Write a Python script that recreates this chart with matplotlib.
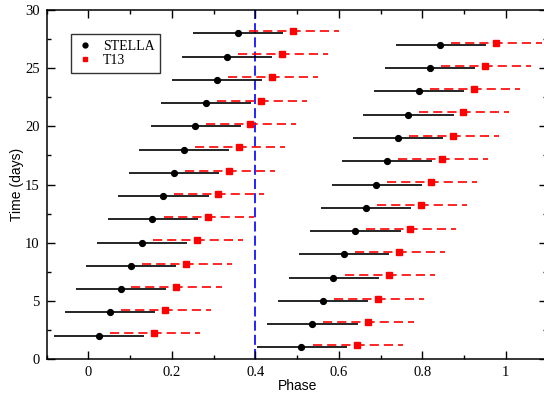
import matplotlib
matplotlib.use("Agg")
import matplotlib.pyplot as plt
from matplotlib.lines import Line2D
from matplotlib.ticker import MultipleLocator, FuncFormatter

# STELLA: time (days) and phase, two branches either side of phase 0.4
stella_time = [1, 2, 3, 4, 5, 6, 7, 8, 9, 10, 11, 12, 13, 14,
               15, 16, 17, 18, 19, 20, 21, 22, 23, 24, 25, 26, 27, 28]
stella_phase = [0.510, 0.025, 0.536, 0.051, 0.562, 0.077, 0.587, 0.102,
                0.612, 0.128, 0.639, 0.153, 0.664, 0.179, 0.690, 0.204,
                0.715, 0.229, 0.741, 0.256, 0.766, 0.281, 0.791, 0.307,
                0.818, 0.332, 0.843, 0.358]
stella_err_lo = 0.107
stella_err_hi = 0.109

# T13
t13_time = [1.2, 2.2, 3.2, 4.2, 5.2, 6.2, 7.2, 8.2, 9.2, 10.2, 11.2, 12.2, 13.2, 14.2,
            15.2, 16.2, 17.2, 18.2, 19.2, 20.2, 21.2, 22.2, 23.2, 24.2, 25.2, 26.2, 27.2, 28.2]
t13_phase = [0.644, 0.158, 0.669, 0.184, 0.695, 0.209, 0.720, 0.235,
             0.745, 0.260, 0.771, 0.286, 0.797, 0.311, 0.822, 0.337,
             0.848, 0.362, 0.874, 0.388, 0.898, 0.414, 0.924, 0.440,
             0.950, 0.465, 0.976, 0.490]
t13_err_lo = 0.106
t13_err_hi = 0.110

PHASE_CUT = 0.4

plt.rcParams['font.family'] = 'Liberation Serif'

fig = plt.figure(figsize=(5.44, 3.94), dpi=100)
ax = fig.add_axes([0.0858, 0.0888, 0.9206, 0.8858])

n = len(stella_time)
ax.errorbar(stella_phase, stella_time,
            xerr=[[stella_err_lo] * n, [stella_err_hi] * n],
            fmt='o', color='black', ms=4.2, elinewidth=1.2, capsize=0, zorder=3)

m = len(t13_time)
eb = ax.errorbar(t13_phase, t13_time,
                 xerr=[[t13_err_lo] * m, [t13_err_hi] * m],
                 fmt='s', color='red', ms=4.0, elinewidth=1.2, capsize=0, zorder=2)
eb[2][0].set_linestyle((0, (5.5, 3)))

ax.axvline(PHASE_CUT, color='blue', lw=1.2, ls=(0, (6, 2.5)), zorder=1)

ax.set_xlim(-0.1, 1.1)
ax.set_ylim(0, 30)
ax.xaxis.set_major_locator(MultipleLocator(0.2))
ax.xaxis.set_minor_locator(MultipleLocator(0.1))
ax.yaxis.set_major_locator(MultipleLocator(5))
ax.yaxis.set_minor_locator(MultipleLocator(2.5))
ax.xaxis.set_major_formatter(FuncFormatter(lambda v, p: f"{v:g}" if abs(v) > 1e-9 else "0"))

ax.tick_params(which='both', direction='in', top=True, right=True, width=1.0,
               labelsize=10.5)
ax.tick_params(which='major', length=6, pad=5)
ax.tick_params(which='minor', length=3.2)
for s in ax.spines.values():
    s.set_linewidth(1.1)

ax.set_xlabel('Phase', fontsize=10, family='Liberation Sans', labelpad=0)
ax.set_ylabel('Time (days)', fontsize=10, family='Liberation Sans', labelpad=1)

handles = [Line2D([], [], ls='none', marker='o', color='black', ms=3.5),
           Line2D([], [], ls='none', marker='s', color='red', ms=3.5)]
leg = ax.legend(handles, ['STELLA', 'T13'], loc='upper left',
                bbox_to_anchor=(0.0485, 0.931), borderaxespad=0,
                fontsize=10, frameon=True, fancybox=False, edgecolor='black',
                handlelength=1.2, handletextpad=0.7, borderpad=0.4,
                labelspacing=0.1)
leg.get_frame().set_linewidth(1.0)

fig.savefig('out.png', dpi=100)
